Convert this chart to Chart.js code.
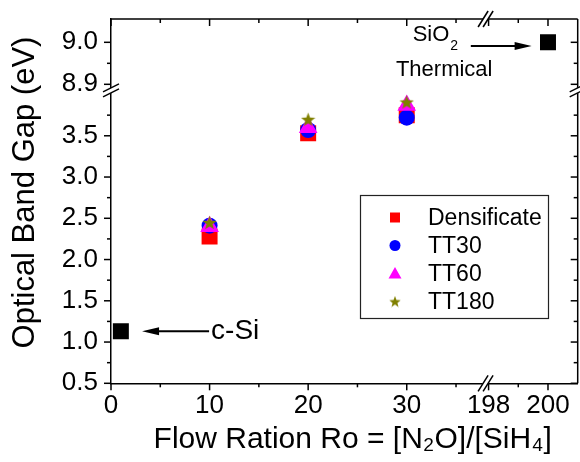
<!DOCTYPE html>
<html>
<head>
<meta charset="utf-8">
<script src="https://cdn.jsdelivr.net/npm/chart.js@4.4.0/dist/chart.umd.min.js"></script>
<style>
  html, body { margin: 0; padding: 0; background: #fff; }
</style>
</head>
<body>
<canvas id="gap-chart" width="580" height="462"></canvas>
<script>
const FONT = "'Liberation Sans', Arial, Helvetica, sans-serif";

// Data
const flowRatio = [10, 20, 30];
const densificate = [2.28, 3.53, 3.75];
const tt30 = [2.41, 3.57, 3.72];
const tt60 = [2.40, 3.60, 3.87];
const tt180 = [2.45, 3.70, 3.91];
const cSi = [{ x: 1, y: 1.13 }];
const sio2 = [{ x: 200, y: 9.0 }];

// Tick values (broken axes: low / high segments)
const xLowTicks = [0, 10, 20, 30];
const xLowMinor = [5, 15, 25, 35];
const xHighTicks = [198, 200];
const xHighMinor = [199];
const yLowTicks = [0.5, 1.0, 1.5, 2.0, 2.5, 3.0, 3.5];
const yLowMinor = [0.75, 1.25, 1.75, 2.25, 2.75, 3.25, 3.75];
const yHighTicks = [8.9, 9.0];
const yHighMinor = [8.95];

// Annotations, in data units of the given axes
const notes = [
  { text: 'SiO', sub: '2', xAxis: 'x1', x: 30.6, yAxis: 'y2', y: 9.017, size: 22 },
  { text: 'Thermical', xAxis: 'x1', x: 28.9, yAxis: 'y2', y: 8.934, size: 22 },
  { text: 'c-Si', xAxis: 'x1', x: 10.15, yAxis: 'y1', y: 1.13, size: 28 },
];
const arrows = [
  { from: ['x1', 36.5, 'y2', 8.991], to: ['x2', 199.45, 'y2', 8.991] },
  { from: ['x1', 9.95, 'y1', 1.13], to: ['x1', 3.15, 'y1', 1.13] },
];

function makeStar(size, color) {
  const c = document.createElement('canvas');
  c.width = c.height = size;
  const g = c.getContext('2d');
  const cx = size / 2, cy = size / 2 + size * 0.05, R = size / 2, r = R * 0.42;
  g.beginPath();
  for (let i = 0; i < 10; i++) {
    const a = -Math.PI / 2 + i * Math.PI / 5;
    const rad = i % 2 ? r : R;
    g.lineTo(cx + rad * Math.cos(a), cy + rad * Math.sin(a));
  }
  g.closePath();
  g.fillStyle = color;
  g.fill();
  return c;
}

const starImg = makeStar(15, '#808000');
const starLegend = makeStar(12, '#808000');

const pts = (ys) => flowRatio.map((x, i) => ({ x: x, y: ys[i] }));

function marker(style, color, radius, order, data, xAxis, yAxis, label) {
  return {
    label: label,
    data: data,
    xAxisID: xAxis,
    yAxisID: yAxis,
    pointStyle: style,
    pointRadius: radius,
    pointHoverRadius: radius,
    backgroundColor: color,
    borderColor: color,
    borderWidth: 0,
    pointBorderWidth: 0,
    order: order,
  };
}

const datasets = [
  marker('rect', '#ff0000', 11.3, 4, pts(densificate), 'x1', 'y1', 'Densificate'),
  marker('circle', '#0000ff', 8, 3, pts(tt30), 'x1', 'y1', 'TT30'),
  marker('triangle', '#ff00ff', 10.8, 2, pts(tt60), 'x1', 'y1', 'TT60'),
  marker(starImg, '#808000', 7, 1, pts(tt180), 'x1', 'y1', 'TT180'),
  marker('rect', '#000000', 11.3, 5, cSi, 'x1', 'y1', 'c-Si'),
  marker('rect', '#000000', 11.3, 5, sio2, 'x2', 'y2', 'SiO2 Thermical'),
];
const legendItems = [
  { label: 'Densificate', style: 'rect', color: '#ff0000' },
  { label: 'TT30', style: 'circle', color: '#0000ff' },
  { label: 'TT60', style: 'triangle', color: '#ff00ff' },
  { label: 'TT180', style: 'star', color: '#808000' },
];

// no extra room for labels that hang past the ends of a segment
function noPad(s) {
  s.paddingLeft = 0; s.paddingRight = 0; s.paddingTop = 0; s.paddingBottom = 0;
}

function axisPart(position, min, max, weight, ticksArr, fmt, padding, size) {
  const horiz = position === 'bottom';
  return {
    type: 'linear',
    position: position,
    stack: horiz ? 'xs' : 'ys',
    stackWeight: weight,
    min: min,
    max: max,
    bounds: 'data',
    afterBuildTicks: (s) => { s.ticks = ticksArr.map(v => ({ value: v })); },
    afterFit: (s) => {
      if (horiz) s.height = size; else s.width = size;
      noPad(s);
    },
    grid: { display: true, drawOnChartArea: false, drawTicks: false },
    border: { display: true, color: '#000', width: 1.5 },
    ticks: {
      color: '#000',
      font: { family: FONT, size: 26 },
      padding: padding,
      autoSkip: false,
      maxRotation: 0,
      callback: fmt,
    },
  };
}

function titleAxis(position, text, size, padding, dim) {
  return {
    type: 'linear',
    position: position,
    weight: 1,
    min: 0,
    max: 1,
    ticks: { display: false },
    grid: { display: false, drawTicks: false },
    border: { display: false },
    title: { display: true, text: text, color: '#000', font: { family: FONT, size: size }, padding: padding },
    afterFit: (s) => {
      if (position === 'bottom') s.height = dim; else s.width = dim;
      noPad(s);
    },
  };
}

function line(ctx, xa, ya, xb, yb) {
  ctx.beginPath();
  ctx.moveTo(xa, ya);
  ctx.lineTo(xb, yb);
  ctx.stroke();
}

function legendMark(ctx, item, x, y) {
  ctx.fillStyle = item.color;
  ctx.beginPath();
  if (item.style === 'rect') {
    ctx.rect(x - 5, y - 5, 10, 10);
  } else if (item.style === 'circle') {
    ctx.arc(x, y, 5.5, 0, Math.PI * 2);
  } else if (item.style === 'triangle') {
    ctx.moveTo(x, y - 6.5);
    ctx.lineTo(x + 6.5, y + 5);
    ctx.lineTo(x - 6.5, y + 5);
    ctx.closePath();
  } else {
    ctx.drawImage(starLegend, x - 6, y - 6);
    return;
  }
  ctx.fill();
}

const decor = {
  id: 'decor',
  afterDraw(chart) {
    const { ctx, chartArea: a, scales } = chart;
    const { x1, x2, y1, y2 } = scales;
    ctx.save();
    ctx.strokeStyle = '#000';
    ctx.lineWidth = 1.5;

    // top and right frame
    line(ctx, a.left, a.top, a.right, a.top);
    line(ctx, a.right, a.top, a.right, a.bottom);

    // tick marks: left/bottom outward, top/right inward
    const xt = (scale, vals, len) => vals.forEach(v => {
      const p = scale.getPixelForValue(v);
      line(ctx, p, a.bottom, p, a.bottom + len);
      line(ctx, p, a.top, p, a.top + len);
    });
    const yt = (scale, vals, len) => vals.forEach(v => {
      const p = scale.getPixelForValue(v);
      line(ctx, a.left, p, a.left - len, p);
      line(ctx, a.right, p, a.right - len, p);
    });
    xt(x1, xLowTicks, 7); xt(x1, xLowMinor, 4);
    xt(x2, xHighTicks, 7); xt(x2, xHighMinor, 4);
    yt(y1, yLowTicks, 7); yt(y1, yLowMinor, 4);
    yt(y2, yHighTicks, 7); yt(y2, yHighMinor, 4);

    // axis breaks
    const bx = x1.right, by = y1.top;
    ctx.fillStyle = '#fff';
    [a.bottom, a.top].forEach(yy => {
      ctx.beginPath();
      ctx.moveTo(bx - 7.5, yy + 8); ctx.lineTo(bx + 2.5, yy - 8);
      ctx.lineTo(bx + 7.5, yy - 8); ctx.lineTo(bx - 2.5, yy + 8);
      ctx.closePath(); ctx.fill();
      line(ctx, bx - 7.5, yy + 8, bx + 2.5, yy - 8);
      line(ctx, bx - 2.5, yy + 8, bx + 7.5, yy - 8);
    });
    [a.left, a.right].forEach(xx => {
      ctx.beginPath();
      ctx.moveTo(xx - 8, by + 1.5); ctx.lineTo(xx + 8, by - 6.5);
      ctx.lineTo(xx + 8, by - 1.5); ctx.lineTo(xx - 8, by + 6.5);
      ctx.closePath(); ctx.fill();
      line(ctx, xx - 8, by + 1.5, xx + 8, by - 6.5);
      line(ctx, xx - 8, by + 6.5, xx + 8, by - 1.5);
    });

    // annotations
    ctx.fillStyle = '#000';
    ctx.textBaseline = 'middle';
    ctx.textAlign = 'left';
    notes.forEach(n => {
      const px = scales[n.xAxis].getPixelForValue(n.x);
      const py = scales[n.yAxis].getPixelForValue(n.y);
      ctx.font = n.size + 'px ' + FONT;
      ctx.fillText(n.text, px, py);
      if (n.sub) {
        const w = ctx.measureText(n.text).width;
        ctx.font = Math.round(n.size * 0.65) + 'px ' + FONT;
        ctx.fillText(n.sub, px + w + 1, py + n.size * 0.5);
      }
    });
    ctx.lineWidth = 2;
    arrows.forEach(ar => {
      const xa = scales[ar.from[0]].getPixelForValue(ar.from[1]);
      const ya = scales[ar.from[2]].getPixelForValue(ar.from[3]);
      const xb = scales[ar.to[0]].getPixelForValue(ar.to[1]);
      const yb = scales[ar.to[2]].getPixelForValue(ar.to[3]);
      const dir = Math.sign(xb - xa);
      line(ctx, xa, ya, xb - dir * 12, yb);
      ctx.beginPath();
      ctx.moveTo(xb, yb);
      ctx.lineTo(xb - dir * 17, yb - 4);
      ctx.lineTo(xb - dir * 17, yb + 4);
      ctx.closePath();
      ctx.fill();
    });

    // legend box
    ctx.lineWidth = 1.2;
    ctx.strokeStyle = '#222';
    ctx.strokeRect(360.5, 195.5, 188, 123);
    ctx.font = '23px ' + FONT;
    legendItems.forEach((it, i) => {
      const y = 217.5 + i * 28;
      legendMark(ctx, it, 395, y);
      ctx.fillStyle = '#000';
      ctx.fillText(it.label, 428, y + 1);
    });
    ctx.restore();
  },
};

new Chart(document.getElementById('gap-chart'), {
  type: 'scatter',
  data: { datasets: datasets },
  options: {
    responsive: false,
    animation: false,
    events: [],
    layout: { autoPadding: false, padding: { top: 19, right: 2.3, left: 0, bottom: 0 } },
    plugins: { legend: { display: false }, tooltip: { enabled: false } },
    scales: {
      x1: axisPart('bottom', 0, 38, 374.6, xLowTicks, v => String(v), 6.5, 37),
      x2: axisPart('bottom', 197.9, 201, 92.1, xHighTicks, v => String(v), 6.5, 37),
      y1: axisPart('left', 0.5, 4.05, 292.9, yLowTicks, v => v.toFixed(1), 13, 67),
      y2: axisPart('left', 8.8855, 9.0555, 71.4, yHighTicks, v => v.toFixed(1), 13, 67),
      xTitle: titleAxis('bottom', '  Flow Ration Ro = [N\u2082O]/[SiH\u2084]', 30, { top: 0, bottom: 4 }, 41.7),
      yTitle: titleAxis('left', '  Optical Band Gap (eV)', 31, { top: 7, bottom: 0 }, 44),
    },
  },
  plugins: [decor],
});
</script>
</body>
</html>
